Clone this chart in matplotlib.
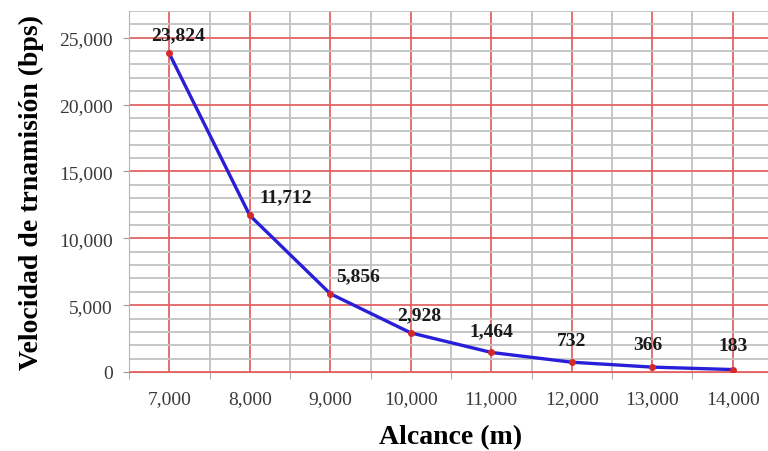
import matplotlib.pyplot as plt
from matplotlib.ticker import MultipleLocator, FuncFormatter

alcance = [7000, 8000, 9000, 10000, 11000, 12000, 13000, 14000]
velocidad = [23824, 11712, 5856, 2928, 1464, 732, 366, 183]
# offset de cada etiqueta en pixeles (dx, dy)
offsets = [(9, 10), (36, 10), (28, 9), (8, 10), (0, 13), (0, 13), (-4, 14), (0, 16)]

plt.rcParams['font.family'] = ['Liberation Serif', 'DejaVu Serif']

fig = plt.figure(figsize=(7.68, 4.52), dpi=100)
ax = fig.add_axes([129 / 768, 1 - 373 / 452, 644 / 768, 361 / 452])

ax.set_xlim(6500, 14500)
ax.set_ylim(0, 27000)

ax.xaxis.set_major_locator(MultipleLocator(1000))
ax.set_xticks([x + 500 for x in [6000] + alcance], minor=True)
ax.yaxis.set_major_locator(MultipleLocator(5000))
ax.yaxis.set_minor_locator(MultipleLocator(1000))
fmt = FuncFormatter(lambda v, p: f"{int(v):,}")
ax.xaxis.set_major_formatter(fmt)
ax.yaxis.set_major_formatter(fmt)

ax.grid(which='minor', color='#c2c2c2', lw=1.3)
ax.grid(which='major', color='#e46464', lw=1.3)
ax.set_axisbelow(True)

ax.tick_params(axis='x', which='major', length=0, pad=13, labelsize=14, labelcolor='#3a3a3a')
ax.tick_params(axis='x', which='minor', length=5, color='#999999', direction='out')
ax.tick_params(axis='y', which='major', length=4, color='#999999', pad=7.5, labelsize=14, labelcolor='#3a3a3a')
ax.tick_params(axis='y', which='minor', length=0)

for s in ['top', 'right']:
    ax.spines[s].set_visible(False)
ax.spines['left'].set_color('#b4b4b4')
ax.spines['bottom'].set_color('#e46464')

ax.plot(alcance, velocidad, color='#2a1fd8', lw=2.4, zorder=3)
ax.plot(alcance, velocidad, 'o', color='#d42a2a', ms=4, zorder=4)

for x, y, (dx, dy) in zip(alcance, velocidad, offsets):
    ax.annotate(f"{y:,}", (x, y), xytext=(dx, dy), textcoords='offset pixels',
                ha='center', va='bottom', fontsize=14, fontweight='bold', color='#1a1a1a')

ax.set_xlabel("Alcance (m)", fontsize=20, fontweight='bold', labelpad=12)
ax.set_ylabel("Velocidad de trnamisión (bps)", fontsize=20, fontweight='bold', labelpad=11)

fig.savefig("out.png", dpi=100)
